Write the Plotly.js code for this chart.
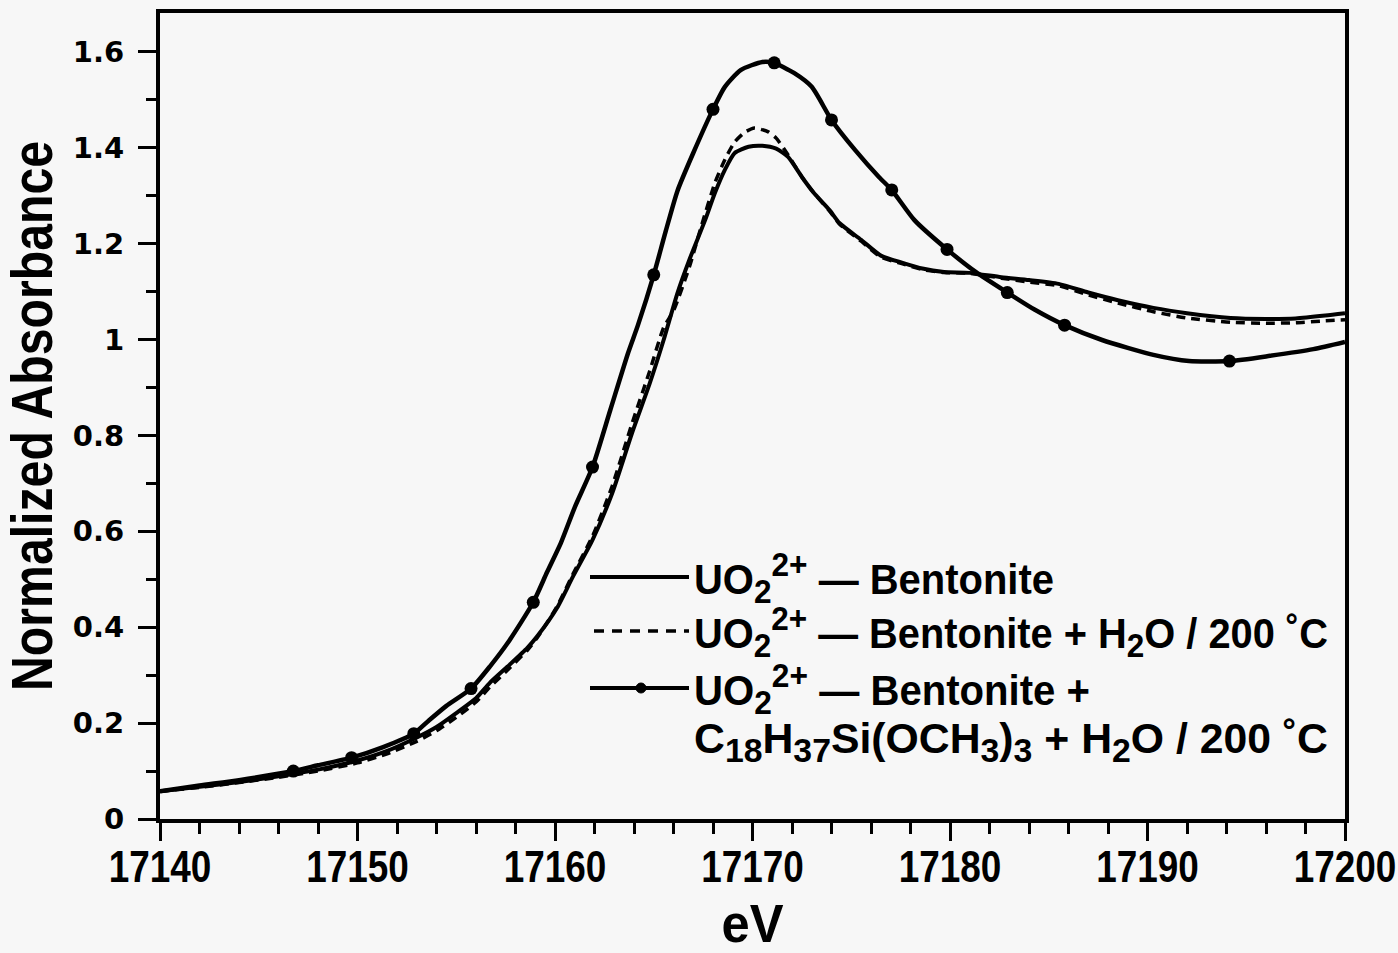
<!DOCTYPE html>
<html>
<head>
<meta charset="utf-8">
<script src="https://cdn.plot.ly/plotly-3.0.1.min.js"></script>
<style>
  html, body { margin: 0; padding: 0; background: #f7f7f7; }
  #chart { width: 1398px; height: 953px; }
</style>
</head>
<body>
<div id="chart"></div>
<script>
// ---- Data ----
const energyA = [17140, 17142, 17144, 17146, 17148, 17150, 17151.5, 17153, 17154, 17155, 17156, 17156.7, 17157.6, 17158.6, 17159.1, 17160.1, 17160.9, 17161.9, 17162.9, 17163.9, 17164.8, 17165.5, 17166.2, 17166.8, 17167.6, 17168.1, 17168.6, 17169.1, 17169.8, 17170.5, 17171.2, 17171.8, 17172.5, 17173.1, 17173.9, 17174.4, 17175.5, 17176.5, 17177.6, 17178.6, 17179.7, 17181.0, 17182.6, 17184.0, 17185.5, 17187.0, 17188.5, 17190.3, 17192.0, 17194.2, 17196.0, 17197.5, 17199.0, 17200];
const absorbA = [0.058, 0.067, 0.077, 0.089, 0.103, 0.122, 0.142, 0.170, 0.192, 0.221, 0.252, 0.284, 0.318, 0.357, 0.381, 0.440, 0.505, 0.582, 0.680, 0.805, 0.909, 0.999, 1.097, 1.166, 1.249, 1.306, 1.354, 1.389, 1.402, 1.404, 1.398, 1.381, 1.339, 1.306, 1.270, 1.243, 1.208, 1.175, 1.160, 1.148, 1.141, 1.139, 1.130, 1.124, 1.116, 1.098, 1.082, 1.066, 1.055, 1.045, 1.043, 1.044, 1.050, 1.055];

const energyB = [17140, 17142, 17144, 17146, 17148, 17150, 17151.5, 17153, 17154, 17155, 17156, 17156.7, 17157.6, 17158.6, 17159.1, 17160.1, 17160.9, 17161.9, 17162.9, 17163.9, 17164.8, 17165.5, 17166.0, 17166.8, 17167.4, 17168.1, 17168.6, 17169.1, 17169.6, 17170.1, 17170.8, 17171.2, 17171.8, 17172.5, 17173.1, 17173.9, 17174.4, 17175.5, 17176.5, 17177.6, 17178.6, 17179.7, 17181.0, 17182.6, 17184.0, 17185.5, 17187.0, 17188.5, 17190.3, 17192.0, 17194.2, 17196.0, 17197.5, 17199.0, 17200];
const absorbB = [0.058, 0.066, 0.076, 0.087, 0.100, 0.117, 0.136, 0.162, 0.184, 0.212, 0.244, 0.275, 0.311, 0.352, 0.378, 0.443, 0.510, 0.590, 0.695, 0.825, 0.935, 1.025, 1.060, 1.151, 1.235, 1.327, 1.375, 1.412, 1.432, 1.441, 1.433, 1.420, 1.385, 1.339, 1.306, 1.268, 1.241, 1.205, 1.172, 1.158, 1.146, 1.140, 1.138, 1.128, 1.120, 1.112, 1.093, 1.076, 1.058, 1.045, 1.036, 1.034, 1.035, 1.039, 1.041];

const energyC = [17140, 17142, 17144, 17146.75, 17148, 17149.7, 17151.3, 17152.85, 17153.6, 17154.5, 17155.75, 17156.7, 17157.7, 17158.9, 17159.6, 17160.3, 17161.0, 17161.9, 17162.8, 17163.7, 17164.2, 17165.0, 17165.6, 17166.2, 17167.0, 17168.0, 17168.6, 17169.4, 17170.5, 17171.1, 17172.1, 17173.0, 17174.0, 17175.2, 17176.4, 17177.05, 17178.2, 17179.85, 17181.3, 17182.9, 17184.3, 17185.8, 17187.7, 17190.3, 17192.1, 17194.15, 17196.2, 17198.4, 17200];
const absorbC = [0.058, 0.070, 0.081, 0.100, 0.112, 0.128, 0.150, 0.178, 0.205, 0.236, 0.272, 0.318, 0.373, 0.452, 0.515, 0.576, 0.650, 0.734, 0.853, 0.972, 1.030, 1.135, 1.225, 1.310, 1.389, 1.480, 1.527, 1.562, 1.579, 1.577, 1.556, 1.527, 1.458, 1.395, 1.339, 1.312, 1.249, 1.188, 1.141, 1.098, 1.062, 1.030, 0.999, 0.968, 0.955, 0.955, 0.966, 0.980, 0.995];

const markerEnergyC = [17146.75, 17149.7, 17152.85, 17155.75, 17158.9, 17161.9, 17165.0, 17168.0, 17171.1, 17174.0, 17177.05, 17179.85, 17182.9, 17185.8, 17194.15];
const markerAbsorbC = [0.100, 0.128, 0.178, 0.272, 0.452, 0.734, 1.135, 1.480, 1.577, 1.458, 1.312, 1.188, 1.098, 1.030, 0.955];

const legendLabels = [
  "UO<sub>2</sub><sup>2+</sup> \u2014 Bentonite",
  "UO<sub>2</sub><sup>2+</sup> \u2014 Bentonite + H<sub>2</sub>O / 200 \u02DAC",
  "UO<sub>2</sub><sup>2+</sup> \u2014 Bentonite +",
  "C<sub>18</sub>H<sub>37</sub>Si(OCH<sub>3</sub>)<sub>3</sub> + H<sub>2</sub>O / 200 \u02DAC"
];
const xTitle = "eV";
const yTitle = "Normalized Absorbance";

// ---- Styling ----
const SANS = "'Liberation Sans', Arial, sans-serif";
const WIDE = "'DejaVu Sans', 'Liberation Sans', sans-serif";
const INK = "#000000";
const boldFont = (size, fam) => ({ family: fam || SANS, size: size, color: INK, weight: 700 });
const CONDENSE = 0.82;   // mimic a condensed bold face

// enlarge the small sub/superscripts a little, as in the reference
const bigScripts = (s) => s
  .replace(/<sub>(.*?)<\/sub>/g, "<sub><span style='font-size:34px'>$1</span></sub>")
  .replace(/<sup>(.*?)<\/sup>/g, "<sup><span style='font-size:34px'>$1</span></sup>");

const traces = [
  { x: energyA, y: absorbA, mode: "lines", type: "scatter", showlegend: false,
    line: { color: INK, width: 4, shape: "spline", smoothing: 0.6 }, hoverinfo: "skip" },
  { x: energyB, y: absorbB, mode: "lines", type: "scatter", showlegend: false,
    line: { color: INK, width: 3.5, dash: "9px,6px", shape: "spline", smoothing: 0.6 }, hoverinfo: "skip" },
  { x: energyC, y: absorbC, mode: "lines", type: "scatter", showlegend: false,
    line: { color: INK, width: 4.5, shape: "spline", smoothing: 0.6 }, hoverinfo: "skip" },
  { x: markerEnergyC, y: markerAbsorbC, mode: "markers", type: "scatter", showlegend: false,
    marker: { color: INK, size: 13, symbol: "circle" }, hoverinfo: "skip" }
];

// plot area in pixels: x 160..1345, y 13..819
const PL = 160, PR = 1345, PT = 13, PB = 819;
const px2x = p => (p - PL) / (PR - PL);
const px2y = p => (PB - p) / (PB - PT);

const legendRowsY = [577, 631, 688, 741];
const legendRowWidths = [360, 634, 396, 634];
const legendLineX0 = 590, legendLineX1 = 689, legendMarkX = 641, legendTextX = 692;

const shapes = [
  { type: "line", xref: "paper", yref: "paper", x0: px2x(legendLineX0), x1: px2x(legendLineX1),
    y0: px2y(legendRowsY[0]), y1: px2y(legendRowsY[0]), line: { color: INK, width: 4 } },
  { type: "line", xref: "paper", yref: "paper", x0: px2x(legendLineX0 + 4), x1: px2x(legendLineX1),
    y0: px2y(legendRowsY[1]), y1: px2y(legendRowsY[1]), line: { color: INK, width: 3.5, dash: "10px,8px" } },
  { type: "line", xref: "paper", yref: "paper", x0: px2x(legendLineX0), x1: px2x(legendLineX1),
    y0: px2y(legendRowsY[2]), y1: px2y(legendRowsY[2]), line: { color: INK, width: 4 } },
  { type: "circle", xref: "paper", yref: "paper", fillcolor: INK, line: { color: INK, width: 1 },
    x0: px2x(legendMarkX - 5), x1: px2x(legendMarkX + 5), y0: px2y(legendRowsY[2] + 5), y1: px2y(legendRowsY[2] - 5) }
];

const annotations = legendLabels.map((t, i) => ({
  xref: "paper", yref: "paper", x: px2x(legendTextX), y: px2y(legendRowsY[i]),
  xanchor: "left", yanchor: "middle", showarrow: false, align: "left",
  text: bigScripts(t), font: boldFont(43)
}));

const layout = {
  width: 1398, height: 953,
  margin: { l: PL, r: 1398 - PR, t: PT, b: 953 - PB, pad: 0 },
  paper_bgcolor: "#f7f7f7", plot_bgcolor: "#f7f7f7",
  showlegend: false,
  xaxis: {
    range: [17140, 17200], tick0: 17140, dtick: 10, tickformat: "d",
    ticks: "outside", ticklen: 18, tickwidth: 3, tickcolor: INK,
    showline: true, linewidth: 4, linecolor: INK, mirror: true,
    showgrid: false, zeroline: false, ticklabeloverflow: "allow",
    ticklabelstandoff: -13,
    minor: { dtick: 2, ticks: "outside", ticklen: 11, tickwidth: 3, tickcolor: INK, showgrid: false },
    tickfont: boldFont(45),
    title: { text: xTitle, font: boldFont(54), standoff: 67 }
  },
  yaxis: {
    range: [0, 1.681], tick0: 0, dtick: 0.2,
    ticks: "outside", ticklen: 18, tickwidth: 3, tickcolor: INK,
    showline: true, linewidth: 4, linecolor: INK, mirror: true,
    showgrid: false, zeroline: false, ticklabelstandoff: 8,
    minor: { dtick: 0.1, ticks: "outside", ticklen: 10, tickwidth: 3, tickcolor: INK, showgrid: false },
    tickfont: boldFont(29, WIDE),
    title: { text: yTitle, font: boldFont(57), standoff: 12 }
  },
  shapes: shapes,
  annotations: annotations
};

Plotly.newPlot("chart", traces, layout, { staticPlot: true, displayModeBar: false }).then(gd => {
  const fit = (el, width) => {
    el.setAttribute("textLength", width.toFixed(1));
    el.setAttribute("lengthAdjust", "spacingAndGlyphs");
  };
  gd.querySelectorAll(".xtick > text").forEach(el => {
    const w = el.getComputedTextLength();
    if (w > 0) fit(el, w * CONDENSE);
  });
  gd.querySelectorAll("text.annotation-text").forEach((el, i) => {
    if (legendRowWidths[i]) fit(el, legendRowWidths[i]);
  });
  const xt = gd.querySelector("text.xtitle");
  if (xt) fit(xt, 62);
  const yt = gd.querySelector("text.ytitle");
  if (yt) fit(yt, 550);
});
</script>
</body>
</html>
